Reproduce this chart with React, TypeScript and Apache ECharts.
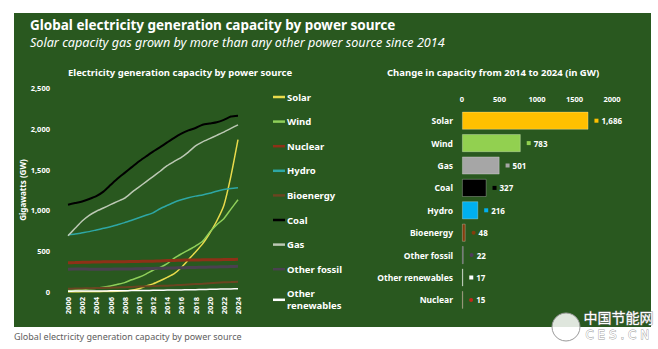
import React, { useEffect, useRef } from "react";
import * as echarts from "echarts";

const years = ["2000","2001","2002","2003","2004","2005","2006","2007","2008","2009","2010","2011","2012","2013","2014","2015","2016","2017","2018","2019","2020","2021","2022","2023","2024"];

const solar = [1,1,2,3,4,5,7,9,15,23,40,72,100,138,180,225,300,395,490,590,720,870,1060,1420,1866];
const wind = [17,24,31,39,47,59,74,94,115,150,181,220,267,300,347,416,467,514,563,622,731,824,899,1016,1130];
const nuclear = [358,361,364,366,368,370,371,372,372,374,375,376,378,381,385,387,390,392,393,394,395,396,397,398,400];
const hydro = [700,710,725,740,760,780,800,825,850,880,910,940,970,1020,1061,1100,1130,1155,1175,1190,1210,1235,1255,1268,1277];
const bioenergy = [40,42,44,46,48,50,53,56,59,62,66,70,73,76,78,82,87,92,97,102,108,113,118,122,126];
const coal = [1070,1090,1110,1140,1175,1230,1310,1390,1460,1530,1600,1660,1720,1775,1833,1890,1940,1980,2010,2050,2065,2080,2110,2150,2160];
const gas = [690,780,870,940,990,1030,1070,1110,1150,1220,1285,1350,1415,1480,1548,1600,1650,1715,1790,1840,1880,1920,1960,2005,2049];
const otherFossil = [280,282,281,280,279,279,280,281,282,283,285,287,289,291,293,295,297,299,301,303,305,307,309,312,315];
const otherRenewables = [10,11,11,12,12,13,14,15,16,17,18,19,20,21,23,24,26,28,29,31,33,35,37,38,40];

const lineNames = ["Solar","Wind","Nuclear","Hydro","Bioenergy","Coal","Gas","Other fossil","Other renewables"];
const lineData = [solar, wind, nuclear, hydro, bioenergy, coal, gas, otherFossil, otherRenewables];
const lineColors = ["#E9DB4C","#8FCF5A","#8E3117","#2EA7A5","#6B4521","#000000","#BCC8B4","#4A4150","#FFFFFF"];
const lineWidths = [1.5,1.5,3,1.5,2,2,1.5,3,1.5];

const barCategories = ["Solar","Wind","Gas","Coal","Hydro","Bioenergy","Other fossil","Other renewables","Nuclear"];
const barValues = [1686,783,501,327,216,48,22,17,15];
const barColors = ["#FFC000","#92D050","#A6A6A6","#000000","#00B0F0","#843C0C","#4F3A5C","#FFFFFF","#9E3A1E"];
const markerColors = ["#FFC000","#92D050","#A6A6A6","#000000","#00B0F0","#843C0C","#4F3A5C","#FFFFFF","#C0281A"];
const markerRound = [false,false,false,false,false,true,true,false,true];
const xTicks = [0,500,1000,1500,2000];

const FONT = "Noto Sans";
const GREEN = "#29581F";

export default function App() {
  const ref = useRef<HTMLDivElement>(null);
  useEffect(() => {
    if (!ref.current) return;
    const chart = echarts.init(ref.current, null, { renderer: "svg" });
    const lineSeries = lineNames.map((n, i) => ({
      name: n,
      type: "line",
      xAxisIndex: 0,
      yAxisIndex: 0,
      data: lineData[i],
      symbol: "none",
      smooth: 0.2,
      color: lineColors[i],
      lineStyle: { color: lineColors[i], width: lineWidths[i] },
      z: n === "Coal" ? 5 : 3,
    }));
    const barData = barValues.map((v, i) => ({
      value: v,
      itemStyle: { color: barColors[i] },
      label: {
        rich: {
          m: { width: 4, height: 4, backgroundColor: markerColors[i], borderRadius: markerRound[i] ? 2 : 0 },
          v: { color: "#FFFFFF", fontSize: 8, fontWeight: "bold", fontFamily: FONT, padding: [0, 0, 0, 3] },
        },
      },
    }));
    chart.setOption({
      animation: false,
      backgroundColor: "#FFFFFF",
      textStyle: { fontFamily: FONT },
      graphic: [
        { type: "rect", z: -10, shape: { x: 14, y: 13, width: 637, height: 314 }, style: { fill: GREEN } },
        { type: "text", left: 30, top: 18, style: { text: "Global electricity generation capacity by power source", fill: "#FFFFFF", font: `bold 13.5px "${FONT}"` } },
        { type: "text", left: 30, top: 36, style: { text: "Solar capacity gas grown by more than any other power source since 2014", fill: "#FFFFFF", font: `italic 12.6px "${FONT}"` } },
        { type: "text", left: 68, top: 67, style: { text: "Electricity generation capacity by power source", fill: "#FFFFFF", font: `bold 9.5px "${FONT}"` } },
        { type: "text", left: 387, top: 67, style: { text: "Change in capacity from 2014 to 2024 (in GW)", fill: "#FFFFFF", font: `bold 9.5px "${FONT}"` } },
        { type: "text", left: 14, top: 332, style: { text: "Global electricity generation capacity by power source", fill: "#606060", font: `9px "${FONT}"` } },
        { type: "circle", shape: { cx: 566, cy: 327, r: 14 }, style: { fill: "rgba(255,255,255,0.85)", stroke: "#9a9a9a", lineWidth: 1 } },
        { type: "text", left: 583, top: 310, style: { text: "中国节能网", fill: "#FFFFFF", stroke: "#8a8a8a", lineWidth: 0.8, font: `14px "Noto Sans CJK SC"` } },
        { type: "text", left: 585, top: 329, style: { text: "C E S . C N", fill: "#FFFFFF", stroke: "#9a9a9a", lineWidth: 0.8, font: `12px "DejaVu Sans"` } },
      ],
      legend: {
        data: lineNames,
        orient: "vertical",
        left: 268,
        top: 86,
        icon: "rect",
        itemWidth: 12,
        itemHeight: 2.5,
        itemGap: 12.6,
        formatter: (n: string) => (n === "Other renewables" ? "Other\nrenewables" : n),
        textStyle: { color: "#FFFFFF", fontSize: 9.5, fontWeight: "bold", lineHeight: 12, fontFamily: FONT, padding: [0, 0, 0, -3] },
      },
      grid: [
        { left: 68, right: 420, top: 88, bottom: 57 },
        { left: 462, width: 150, top: 109.5, bottom: 37.9 },
      ],
      xAxis: [
        {
          type: "category",
          gridIndex: 0,
          data: years,
          boundaryGap: false,
          axisLine: { show: false },
          axisTick: { show: false },
          axisLabel: { interval: 1, rotate: 90, color: "#FFFFFF", fontSize: 7.5, fontWeight: "bold", margin: 5 },
          splitLine: { show: false },
        },
        {
          type: "value",
          gridIndex: 1,
          position: "top",
          min: xTicks[0],
          max: xTicks[xTicks.length - 1],
          interval: 500,
          axisLine: { show: false },
          axisTick: { show: false },
          splitLine: { show: false },
          axisLabel: { color: "#FFFFFF", fontSize: 7.5, fontWeight: "bold", margin: 7, formatter: (v: number) => String(v) },
        },
      ],
      yAxis: [
        {
          type: "value",
          gridIndex: 0,
          min: 0,
          max: 2500,
          interval: 500,
          name: "Gigawatts (GW)",
          nameLocation: "middle",
          nameGap: 32,
          nameTextStyle: { color: "#FFFFFF", fontSize: 8, fontWeight: "bold" },
          axisLine: { show: false },
          axisTick: { show: false },
          splitLine: { show: false },
          axisLabel: {
            color: "#FFFFFF",
            fontSize: 7.5,
            fontWeight: "bold",
            margin: 18,
            formatter: (v: number) => v.toLocaleString("en-US"),
          },
        },
        {
          type: "category",
          gridIndex: 1,
          data: barCategories,
          inverse: true,
          axisLine: { show: false },
          axisTick: { show: false },
          axisLabel: { color: "#FFFFFF", fontSize: 8.5, fontWeight: "bold", margin: 9 },
        },
      ],
      series: [
        ...lineSeries,
        {
          name: "Change",
          type: "bar",
          xAxisIndex: 1,
          yAxisIndex: 1,
          data: barData,
          barWidth: 18,
          itemStyle: { borderColor: "rgba(255,255,255,0.35)", borderWidth: 0.8 },
          label: {
            show: true,
            position: "right",
            distance: 6,
            formatter: (p: any) => `{m| }{v|${Number(p.value).toLocaleString("en-US")}}`,
          },
        },
      ],
    });
    return () => chart.dispose();
  }, []);
  return <div ref={ref} style={{ position: "absolute", left: 0, top: 0, width: 658, height: 349 }} />;
}
